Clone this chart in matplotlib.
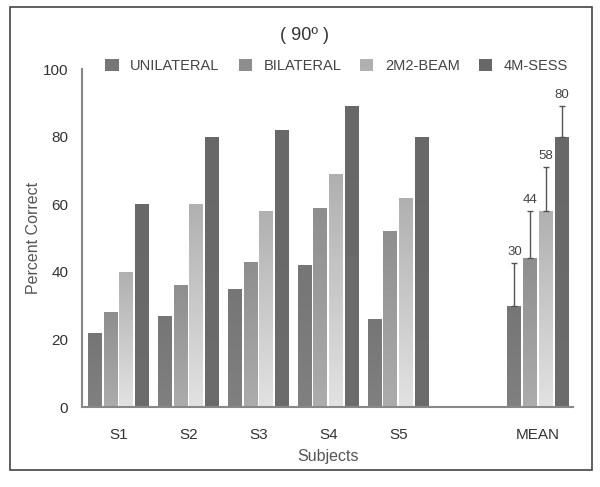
import numpy as np
import matplotlib.pyplot as plt
from matplotlib.patches import Rectangle
from matplotlib.colors import LinearSegmentedColormap

plt.rcParams['font.family'] = ['Liberation Sans', 'DejaVu Sans']

# data
groups = ['S1', 'S2', 'S3', 'S4', 'S5', 'MEAN']
group_pos = [0, 1, 2, 3, 4, 6]
conditions = ['UNILATERAL', 'BILATERAL', '2M2-BEAM', '4M-SESS']
unilateral = [22, 27, 35, 42, 26, 30]
bilateral = [28, 36, 43, 59, 52, 44]
beam = [40, 60, 58, 69, 62, 58]
sess = [60, 80, 82, 89, 80, 80]
mean_err = [12.5, 14, 13, 9]   # only the MEAN bars have error bars

series = [unilateral, bilateral, beam, sess]
# (top colour, bottom colour) of each bar's vertical gradient
shades = [('#767676', '#808080'), ('#8e8e8e', '#acacac'),
          ('#b0b0b0', '#e2e2e2'), ('#686868', '#6c6c6c')]

fig = plt.figure(figsize=(6, 4.87), dpi=100)
ax = fig.add_axes([0.137, 0.164, 0.818, 0.694])

grad = np.linspace(0, 1, 256).reshape(-1, 1)

width = 0.2
step = 0.225
for i, (vals, sh, name) in enumerate(zip(series, shades, conditions)):
    xs = [p + (i - 1.5) * step for p in group_pos]
    cmap = LinearSegmentedColormap.from_list('g%d' % i, [sh[0], sh[1]])
    bars = ax.bar(xs, vals, width=width, color=sh[0], label=name, zorder=2)
    for b in bars:
        x0, y1 = b.get_x(), b.get_height()
        im = ax.imshow(grad, cmap=cmap, aspect='auto', origin='upper',
                       extent=[x0, x0 + width, 0, y1], zorder=2.1)
        im.set_clip_path(b)
    # error bar + value label on the mean bar
    ax.errorbar(xs[-1], vals[-1], yerr=[[0], [mean_err[i]]], fmt='none',
                ecolor='#555555', elinewidth=1, capsize=2.5, capthick=1, zorder=3)
    ax.text(xs[-1], vals[-1] + mean_err[i] + 1.5, str(vals[-1]), ha='center',
            va='bottom', fontsize=9.5, color='#444444')

ax.set_xlim(-0.52, 6.5)
ax.set_ylim(0, 100)
ax.set_xticks(group_pos)
ax.set_xticklabels(groups)
ax.set_yticks([0, 20, 40, 60, 80, 100])
ax.tick_params(length=0, labelsize=11, colors='#333333')
ax.tick_params(axis='x', pad=15)
ax.tick_params(axis='y', pad=10)
for s in ['top', 'right']:
    ax.spines[s].set_visible(False)
for s in ['left', 'bottom']:
    ax.spines[s].set_color('#888888')
    ax.spines[s].set_linewidth(1.5)
ax.set_xlabel('Subjects', fontsize=11.5, color='#555555', labelpad=5)
ax.set_ylabel('Percent Correct', fontsize=11.5, color='#555555', labelpad=1)

fig.text(0.508, 1 - 36 / 487, '( 90º )', ha='center', va='center', fontsize=13, color='#333333')
fig.legend(loc='center', bbox_to_anchor=(0.561, 1 - 66 / 487), ncol=4, frameon=False,
           fontsize=10.5, handlelength=0.9, handleheight=0.9, columnspacing=1.3,
           handletextpad=0.8, labelcolor='#444444')

# frame around the whole figure
fig.patches.append(Rectangle((10 / 600, 1 - 470 / 487), 582 / 600, 463 / 487,
                             transform=fig.transFigure, fill=False, edgecolor='#444444',
                             linewidth=1.2))

fig.savefig('out.png', dpi=100)
